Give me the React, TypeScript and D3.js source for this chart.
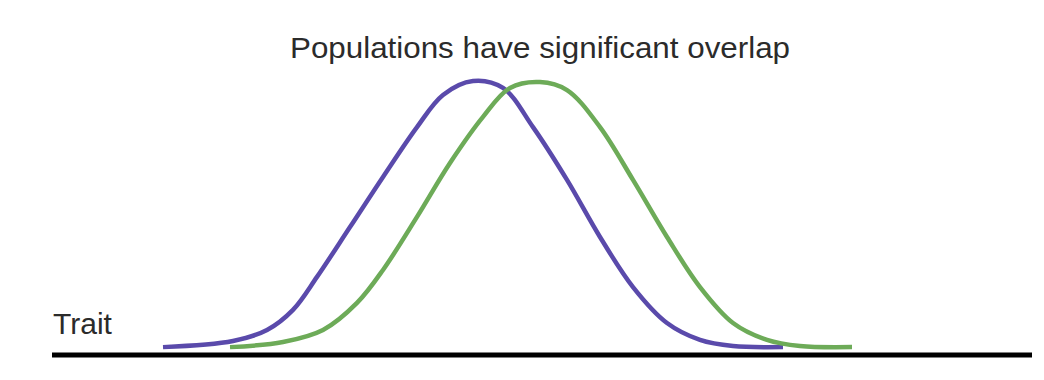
import React from "react";
import * as d3 from "d3";

const title = "Populations have significant overlap";
const axisLabel = "Trait";

// Trait position (x) and relative frequency (y, 0-100)
const purpleX = [111, 181, 215, 241, 265, 298, 331, 365, 391, 421, 451, 481, 515, 548, 581, 615, 648, 681, 731];
const purpleY = [0.7, 3.0, 7.1, 14.6, 26.9, 45.5, 64.2, 82.8, 94.8, 100, 97.4, 82.8, 63.1, 41.8, 23.1, 9.7, 3.4, 1.1, 0.7];

const greenX = [178, 231, 271, 305, 331, 365, 398, 431, 458, 488, 515, 548, 581, 615, 648, 681, 715, 748, 800];
const greenY = [0.7, 2.6, 7.1, 17.2, 29.5, 49.3, 69.4, 86.6, 97.4, 99.6, 96.6, 82.8, 63.1, 41.8, 23.1, 9.7, 3.4, 1.1, 0.7];

const seriesNames = ["Population A", "Population B"];
const seriesColors = ["#5a4aab", "#6dab58"];

const W = 1044;
const H = 380;

export default function App() {
  const x = d3.scaleLinear().domain([0, 980]).range([52, 1032]);
  const y = d3.scaleLinear().domain([0, 100]).range([349, 81]);

  const line = d3
    .line<[number, number]>()
    .x((d) => x(d[0]))
    .y((d) => y(d[1]))
    .curve(d3.curveCatmullRom.alpha(0.5));

  const series = [
    purpleX.map((v, i) => [v, purpleY[i]] as [number, number]),
    greenX.map((v, i) => [v, greenY[i]] as [number, number]),
  ];

  return (
    <svg
      width={W}
      height={H}
      style={{ position: "absolute", left: 0, top: 0, background: "#fff" }}
      fontFamily="'Liberation Sans', Arial, Helvetica, sans-serif"
    >
      <rect x={0} y={0} width={W} height={H} fill="#fff" />
      <text x={540} y={58} textAnchor="middle" fontSize={30} fill="#2b2b2b" textLength={500} lengthAdjust="spacingAndGlyphs">
        {title}
      </text>
      <text x={53} y={334} fontSize={30} fill="#2b2b2b">
        {axisLabel}
      </text>
      {series.map((s, i) => (
        <path key={seriesNames[i]} d={line(s) || ""} fill="none" stroke={seriesColors[i]} strokeWidth={4.5} strokeLinecap="butt" strokeLinejoin="round" />
      ))}
      <line x1={x(0)} x2={x(980)} y1={355} y2={355} stroke="#000" strokeWidth={5} />
    </svg>
  );
}
